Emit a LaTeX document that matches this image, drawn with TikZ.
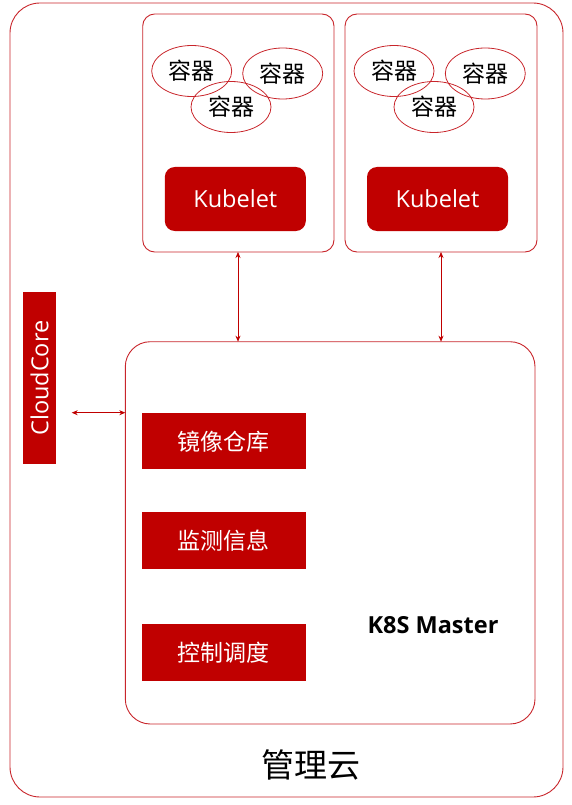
\documentclass[tikz,border=0pt]{standalone}
\usepackage{fontspec}
\setmainfont{Noto Sans CJK SC}
\newfontfamily\latinfont{Open Sans}
\usetikzlibrary{arrows.meta,shapes.geometric}
\definecolor{kred}{HTML}{C00000}
\definecolor{kline}{HTML}{C8252B}
\begin{document}
\begin{tikzpicture}[x=1pt,y=-1pt,
  frame/.style={draw=kline,line width=0.9pt,rounded corners=#1},
  redbox/.style={fill=kred,draw=none,text=white,inner sep=0pt},
  ctr/.style={draw=kline,line width=0.8pt,ellipse,minimum width=80pt,minimum height=51pt,inner sep=0pt,font=\fontsize{23}{26}\selectfont},
  link/.style={draw=kred,line width=0.7pt,{Stealth[length=6pt,width=5pt]}-{Stealth[length=6pt,width=5pt]}}
]
\useasboundingbox (0,0) rectangle (571,805);
% outer cloud
\draw[frame=30pt] (10,3) rectangle (563,797);
\node[font=\fontsize{33}{38}\selectfont] (cloud) at (311,765) {管理云};
% worker nodes
\draw[frame=12pt] (142.7,14) rectangle (334,252);
\coordinate (n1bot) at (238,252);
\draw[frame=12pt] (345,14) rectangle (537,252);
\coordinate (n2bot) at (441,252);
\node[ctr] (c11) at (191.7,71) {容器};
\node[ctr] (c12) at (282.7,73.5) {容器};
\node[ctr] (c13) at (231,107) {容器};
\node[ctr] (c21) at (394,71) {容器};
\node[ctr] (c22) at (485.3,73.5) {容器};
\node[ctr] (c23) at (434,107) {容器};
\node[redbox,rounded corners=10pt,minimum width=141pt,minimum height=64pt,font=\latinfont\fontsize{23.5}{26}\selectfont] (k1) at (235.3,199) {Kubelet};
\node[redbox,rounded corners=10pt,minimum width=141pt,minimum height=64pt,font=\latinfont\fontsize{23.5}{26}\selectfont] (k2) at (437.5,199) {Kubelet};
% master
\draw[frame=25pt] (125.3,341.7) rectangle (535,724);
\coordinate (m1top) at (238,341.7);
\coordinate (m2top) at (441,341.7);
\coordinate (mleft) at (125.3,412.7);
\node[redbox,minimum width=163.7pt,minimum height=56pt,font=\fontsize{23}{26}\selectfont] (reg) at (223.8,441.3) {镜像仓库};
\node[redbox,minimum width=163.7pt,minimum height=57pt,font=\fontsize{23}{26}\selectfont] (mon) at (223.8,540.5) {监测信息};
\node[redbox,minimum width=163.7pt,minimum height=57pt,font=\fontsize{23}{26}\selectfont] (ctl) at (223.8,652.5) {控制调度};
\node[font=\latinfont\bfseries\fontsize{23.5}{26}\selectfont] (mtitle) at (433,625) {K8S Master};
% cloudcore
\node[redbox,minimum width=171.7pt,minimum height=32.4pt,rotate=90,font=\latinfont\fontsize{23.5}{26}\selectfont] (cc) at (39.5,378.2) {CloudCore};
\coordinate (ccr) at (71.7,412.7);
% links
\draw[link] (n1bot) -- (m1top);
\draw[link] (n2bot) -- (m2top);
\draw[link] (ccr) -- (mleft);
\end{tikzpicture}
\end{document}
